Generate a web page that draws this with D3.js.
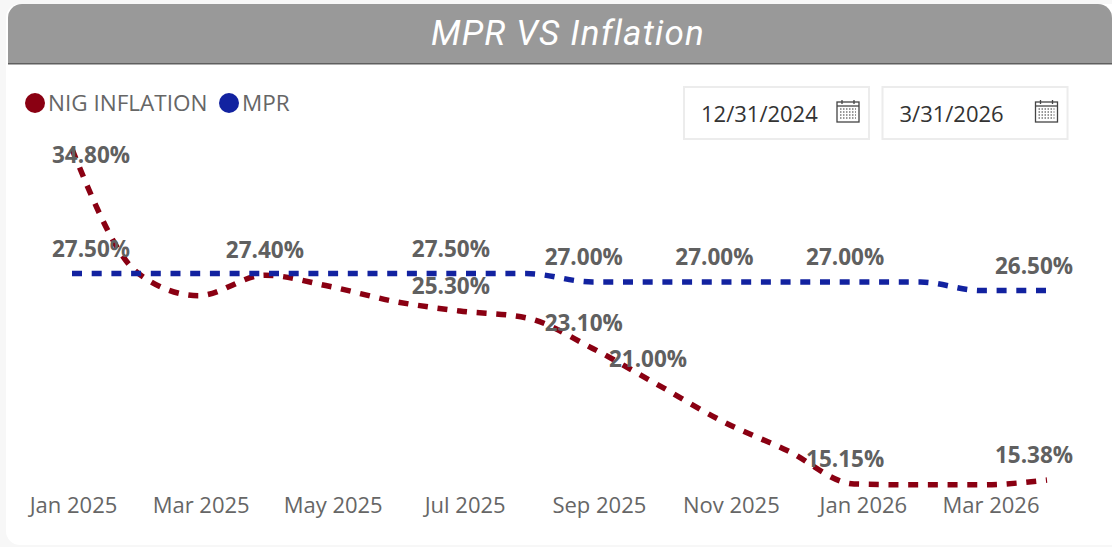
<!DOCTYPE html>
<html>
<head>
<meta charset="utf-8">
<script src="https://cdn.jsdelivr.net/npm/d3@7"></script>
<style>
  html, body { margin: 0; padding: 0; background: #fff; overflow: hidden; }
  text { font-family: "Open Sans", sans-serif; }
</style>
</head>
<body>
<svg id="chart" width="1112" height="547"></svg>
<script>
// values, one per month end
const months = ["2024-12-31", "2025-01-31", "2025-02-28", "2025-03-31", "2025-04-30", "2025-05-31",
    "2025-06-30", "2025-07-31", "2025-08-31", "2025-09-30", "2025-10-31", "2025-11-30",
    "2025-12-31", "2026-01-31", "2026-02-28", "2026-03-31"];
const inflation = [34.8, 27.5, 26.2, 27.4, 26.75, 25.85, 25.3, 24.9, 23.1, 21.0, 18.8, 17.1, 15.15, 15.1, 15.1, 15.38];
const mpr = [27.5, 27.5, 27.5, 27.5, 27.5, 27.5, 27.5, 27.5, 27.0, 27.0, 27.0, 27.0, 27.0, 27.0, 26.5, 26.5];
const tickMonths = ["2025-01-01", "2025-03-01", "2025-05-01", "2025-07-01", "2025-09-01", "2025-11-01", "2026-01-01", "2026-03-01"];
const legendNames = ["NIG INFLATION", "MPR"];
const dateSlicers = ["12/31/2024", "3/31/2026"];
// which months carry a data label
const inflationLabelled = [0, 3, 6, 8, 9, 12, 15];
const mprLabelled = [0, 6, 8, 10, 12, 15];

const colors = {inflation: "#8a0012", mpr: "#1222a0", label: "#606060", axis: "#666666"};

const svg = d3.select("#chart");
const parseDate = d3.timeParse("%Y-%m-%d");
const dates = months.map(parseDate);
const tickDates = tickMonths.map(parseDate);

// card + header
svg.append("rect").attr("width", 1112).attr("height", 547).attr("fill", "#f7f7f7");
svg.append("rect").attr("x", 6).attr("y", 4).attr("width", 1130).attr("height", 541).attr("rx", 14).attr("fill", "#fff");
svg.append("path")
    .attr("d", "M8,63V18a14,14 0 0 1 14,-14H1098a14,14 0 0 1 14,14V63Z")
    .attr("fill", "#999999");
svg.append("rect").attr("x", 8).attr("y", 63).attr("width", 1104).attr("height", 1.5).attr("fill", "#5f5f5f");
svg.append("text")
    .attr("x", 568).attr("y", 45)
    .attr("text-anchor", "middle")
    .style("font-family", "Roboto")
    .style("font-style", "italic")
    .style("font-size", "35px")
    .style("letter-spacing", "1.2px")
    .attr("fill", "#fff")
    .text("MPR VS Inflation");

// scales
const x = d3.scaleTime().domain(d3.extent(dates)).range([72, 1047]);
const y = d3.scaleLinear().domain([15.15, 27.5]).range([484, 273.5]);
// the tick labels run on a slightly wider scale than the lines in the original
const xTicks = d3.scaleTime().domain(d3.extent(tickDates)).range([73, 990.5]);

// x axis
const axis = svg.append("g")
    .attr("transform", "translate(0,497)")
    .call(d3.axisBottom(xTicks)
        .tickValues(tickDates)
        .tickFormat(d3.timeFormat("%b %Y"))
        .tickSize(0)
        .tickPadding(0));
axis.select(".domain").remove();
axis.selectAll("text")
    .attr("dy", "0.71em")
    .attr("y", 0)
    .attr("fill", colors.axis)
    .style("font-size", "22px");

// lines
const line = d3.line()
    .x((d, i) => x(dates[i]))
    .y(d => y(d))
    .curve(d3.curveMonotoneX);

svg.append("path").datum(inflation)
    .attr("d", line)
    .attr("fill", "none")
    .attr("stroke", colors.inflation)
    .attr("stroke-width", 5.5)
    .attr("stroke-dasharray", "10,9.7");
svg.append("path").datum(mpr)
    .attr("d", line)
    .attr("fill", "none")
    .attr("stroke", colors.mpr)
    .attr("stroke-width", 5.5)
    .attr("stroke-dasharray", "10,9.7");

// data labels, kept inside the plot area like the original does
function labelX(i) {
    const shift = i === 3 ? 0 : -9;
    return Math.max(91, Math.min(1034, x(dates[i]) + shift));
}
function addLabels(values, picked) {
    svg.append("g").selectAll("text")
        .data(picked)
        .enter().append("text")
        .attr("x", i => labelX(i))
        .attr("y", i => Math.max(163, y(values[i]) - 17))
        .attr("text-anchor", "middle")
        .attr("fill", colors.label)
        .style("font-size", "22.5px")
        .style("font-weight", 700)
        .text(i => values[i].toFixed(2) + "%");
}
addLabels(inflation, inflationLabelled);
addLabels(mpr, mprLabelled);

// legend
const legendX = [35, 229];
const legendColors = [colors.inflation, colors.mpr];
const legend = svg.append("g").selectAll("g")
    .data(legendNames)
    .enter().append("g")
    .attr("transform", (d, i) => `translate(${legendX[i]},103)`);
legend.append("circle").attr("r", 10).attr("fill", (d, i) => legendColors[i]);
legend.append("text")
    .attr("x", 13).attr("y", 8)
    .attr("fill", colors.axis)
    .style("font-size", "22.5px")
    .text(d => d);

// date slicers
const slicer = svg.append("g").selectAll("g")
    .data(dateSlicers)
    .enter().append("g")
    .attr("transform", (d, i) => `translate(${684 + i * 198.5},87)`);
slicer.append("rect")
    .attr("width", 185).attr("height", 52)
    .attr("fill", "#fff").attr("stroke", "#ececec").attr("stroke-width", 2);
slicer.append("text")
    .attr("x", 17).attr("y", 35)
    .attr("fill", "#333")
    .style("font-size", "22px")
    .text(d => d);
// calendar icon
const icon = slicer.append("g").attr("transform", "translate(153,15)");
icon.append("rect").attr("width", 22).attr("height", 20).attr("fill", "#fff").attr("stroke", "#444").attr("stroke-width", 1.3);
icon.append("line").attr("x1", 0).attr("x2", 22).attr("y1", 4).attr("y2", 4).attr("stroke", "#444").attr("stroke-width", 1.3);
icon.selectAll("line.peg").data([5, 17]).enter().append("line")
    .attr("class", "peg")
    .attr("x1", d => d).attr("x2", d => d).attr("y1", -2).attr("y2", 2)
    .attr("stroke", "#444").attr("stroke-width", 1.3);
icon.append("g").selectAll("line").data([7, 10, 13, 16]).enter().append("line")
    .attr("x1", 3).attr("x2", 19).attr("y1", d => d).attr("y2", d => d)
    .attr("stroke", "#777").attr("stroke-width", 1.5).attr("stroke-dasharray", "1.5,1.5");
</script>
</body>
</html>
